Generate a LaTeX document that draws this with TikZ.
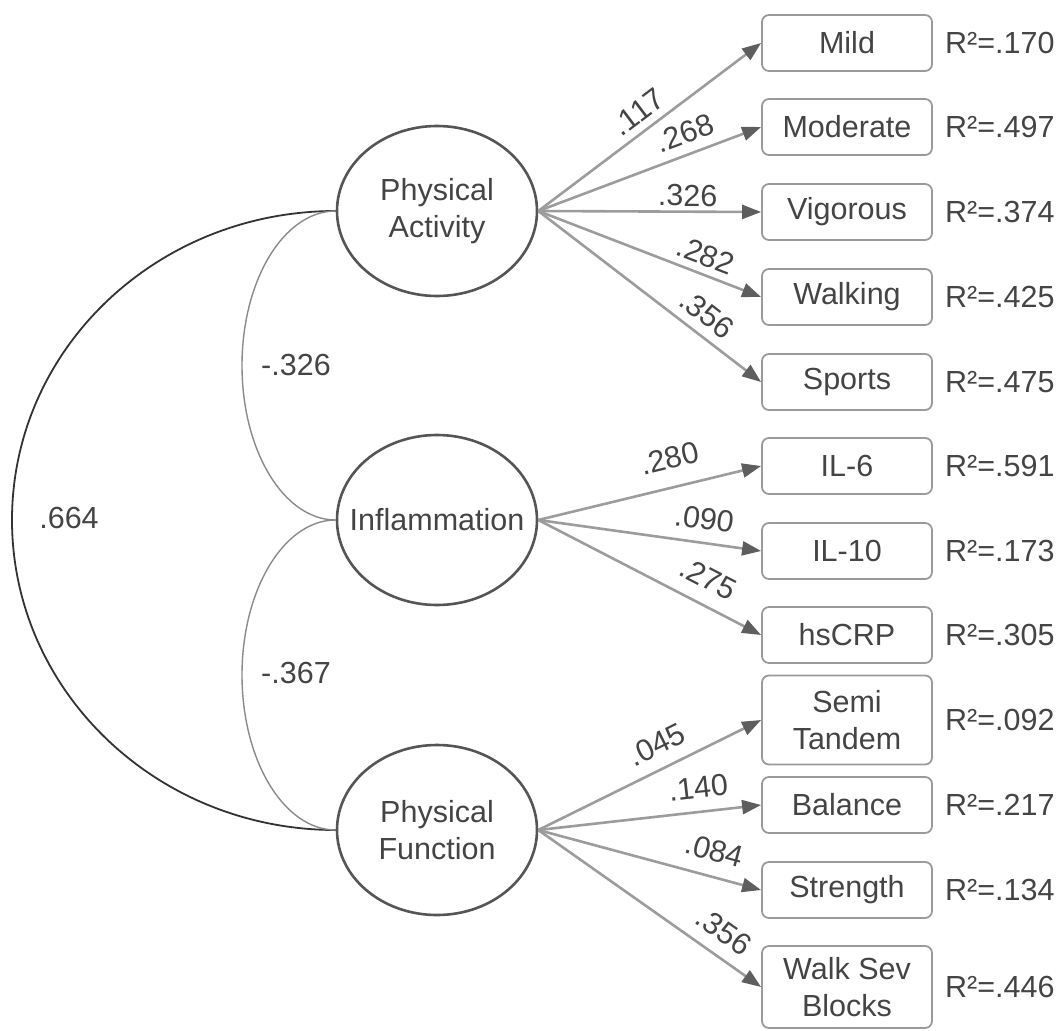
\documentclass[tikz,border=0pt]{standalone}
\usepackage{fontspec}
\setmainfont{Liberation Sans}
\usetikzlibrary{shapes.geometric,arrows.meta}
\definecolor{txt}{HTML}{444444}
\definecolor{latentline}{HTML}{555555}
\definecolor{boxline}{HTML}{9A9A9A}
\definecolor{pathline}{HTML}{9C9C9C}
\definecolor{tipcol}{HTML}{5E5E5E}
\definecolor{outercov}{HTML}{333333}
\definecolor{innercov}{HTML}{8A8A8A}
\tikzset{
  every node/.style={text=txt, font=\fontsize{30.5}{37}\selectfont},
  latent/.style={ellipse, draw=latentline, line width=2.6pt, minimum width=200pt, minimum height=170pt, inner sep=0pt, text width=60pt, align=center},
  indicator/.style={rectangle, rounded corners=7pt, draw=boxline, line width=1.8pt, minimum width=170pt, minimum height=56pt, inner sep=0pt, align=center},
  rsq/.style={anchor=west, inner sep=0pt},
  loading/.style={draw=pathline, line width=2.6pt, -{Triangle[length=19pt,width=14pt,color=tipcol]}},
  lbl/.style={sloped, inner sep=0pt},
  covout/.style={draw=outercov, line width=1.8pt},
  covin/.style={draw=innercov, line width=1.4pt},
}
% centred line that may be wider than the ellipse text column
\newcommand{\latentline}[1]{\makebox[60pt][c]{#1}}
\begin{document}
\begin{tikzpicture}[x=1pt,y=-1pt]
\useasboundingbox (0,0) rectangle (1064,1030);

% latent factors
\node[latent] (pa) at (437,211) {\latentline{Physical}\\\latentline{Activity}};
\node[latent] (inf) at (437,520) {\latentline{Inflammation}};
\node[latent] (pf) at (437,830) {\latentline{Physical}\\\latentline{Function}};

% indicators
\node[indicator] (mild) at (847,43) {Mild};
\node[indicator] (mod)  at (847,127) {Moderate};
\node[indicator] (vig)  at (847,212) {Vigorous};
\node[indicator] (walk) at (847,297) {Walking};
\node[indicator] (spo)  at (847,382) {Sports};
\node[indicator] (il6)  at (847,466) {IL-6};
\node[indicator] (il10) at (847,551) {IL-10};
\node[indicator] (crp)  at (847,635) {hsCRP};
\node[indicator, minimum height=89pt] (semi) at (847,720) {Semi\\Tandem};
\node[indicator] (bal)  at (847,805) {Balance};
\node[indicator] (str)  at (847,890) {Strength};
\node[indicator, minimum height=82pt] (wsb) at (847,987) {Walk Sev\\Blocks};

% explained variance
\node[rsq] (rmild) at (945,43) {R²=.170};
\node[rsq] (rmod)  at (945,127) {R²=.497};
\node[rsq] (rvig)  at (945,212) {R²=.374};
\node[rsq] (rwalk) at (945,297) {R²=.425};
\node[rsq] (rspo)  at (945,382) {R²=.475};
\node[rsq] (ril6)  at (945,466) {R²=.591};
\node[rsq] (ril10) at (945,551) {R²=.173};
\node[rsq] (rcrp)  at (945,635) {R²=.305};
\node[rsq] (rsemi) at (945,720) {R²=.092};
\node[rsq] (rbal)  at (945,805) {R²=.217};
\node[rsq] (rstr)  at (945,890) {R²=.134};
\node[rsq] (rwsb)  at (945,987) {R²=.446};

% factor loadings
\draw[loading] (pa.east) -- (mild.west) node[lbl, pos=.50, above=7pt] {.117};
\draw[loading] (pa.east) -- (mod.west)  node[lbl, pos=.69, above=9pt] {.268};
\draw[loading] (pa.east) -- (vig.west)  node[lbl, pos=.67, above=4pt] {.326};
\draw[loading] (pa.east) -- (walk.west) node[lbl, pos=.72, above=7pt] {.282};
\draw[loading] (pa.east) -- (spo.west)  node[lbl, pos=.70, above=9pt] {.356};

\draw[loading] (inf.east) -- (il6.west)  node[lbl, pos=.62, above=17pt] {.280};
\draw[loading] (inf.east) -- (il10.west) node[lbl, pos=.73, above=12pt] {.090};
\draw[loading] (inf.east) -- (crp.west)  node[lbl, pos=.71, above=14pt] {.275};

\draw[loading] (pf.east) -- (semi.west) node[lbl, pos=.58, above=12pt] {.045};
\draw[loading] (pf.east) -- (bal.west)  node[lbl, pos=.73, above=12pt] {.140};
\draw[loading] (pf.east) -- (str.west)  node[lbl, pos=.76, above=14pt] {.084};
\draw[loading] (pf.east) -- (wsb.west)  node[lbl, pos=.77, above=12pt] {.356};

% factor covariances
\coordinate (outerleft) at (12,520);
\coordinate (upperleft) at (242,365.5);
\coordinate (lowerleft) at (242,675);
\draw[covout] (pa.west) .. controls +(-179,0) and +(0,-171) .. (outerleft)
              .. controls +(0,171) and +(-179,0) .. (pf.west);
\draw[covin] (pa.west) .. controls +(-52,0) and +(0,-85) .. (upperleft)
             .. controls +(0,85) and +(-52,0) .. (inf.west);
\draw[covin] (inf.west) .. controls +(-52,0) and +(0,-85) .. (lowerleft)
             .. controls +(0,85) and +(-52,0) .. (pf.west);

\node (c664) at (69,518) {.664};
\node (c326) at (296,365) {-.326};
\node (c367) at (296,673) {-.367};
\end{tikzpicture}
\end{document}
